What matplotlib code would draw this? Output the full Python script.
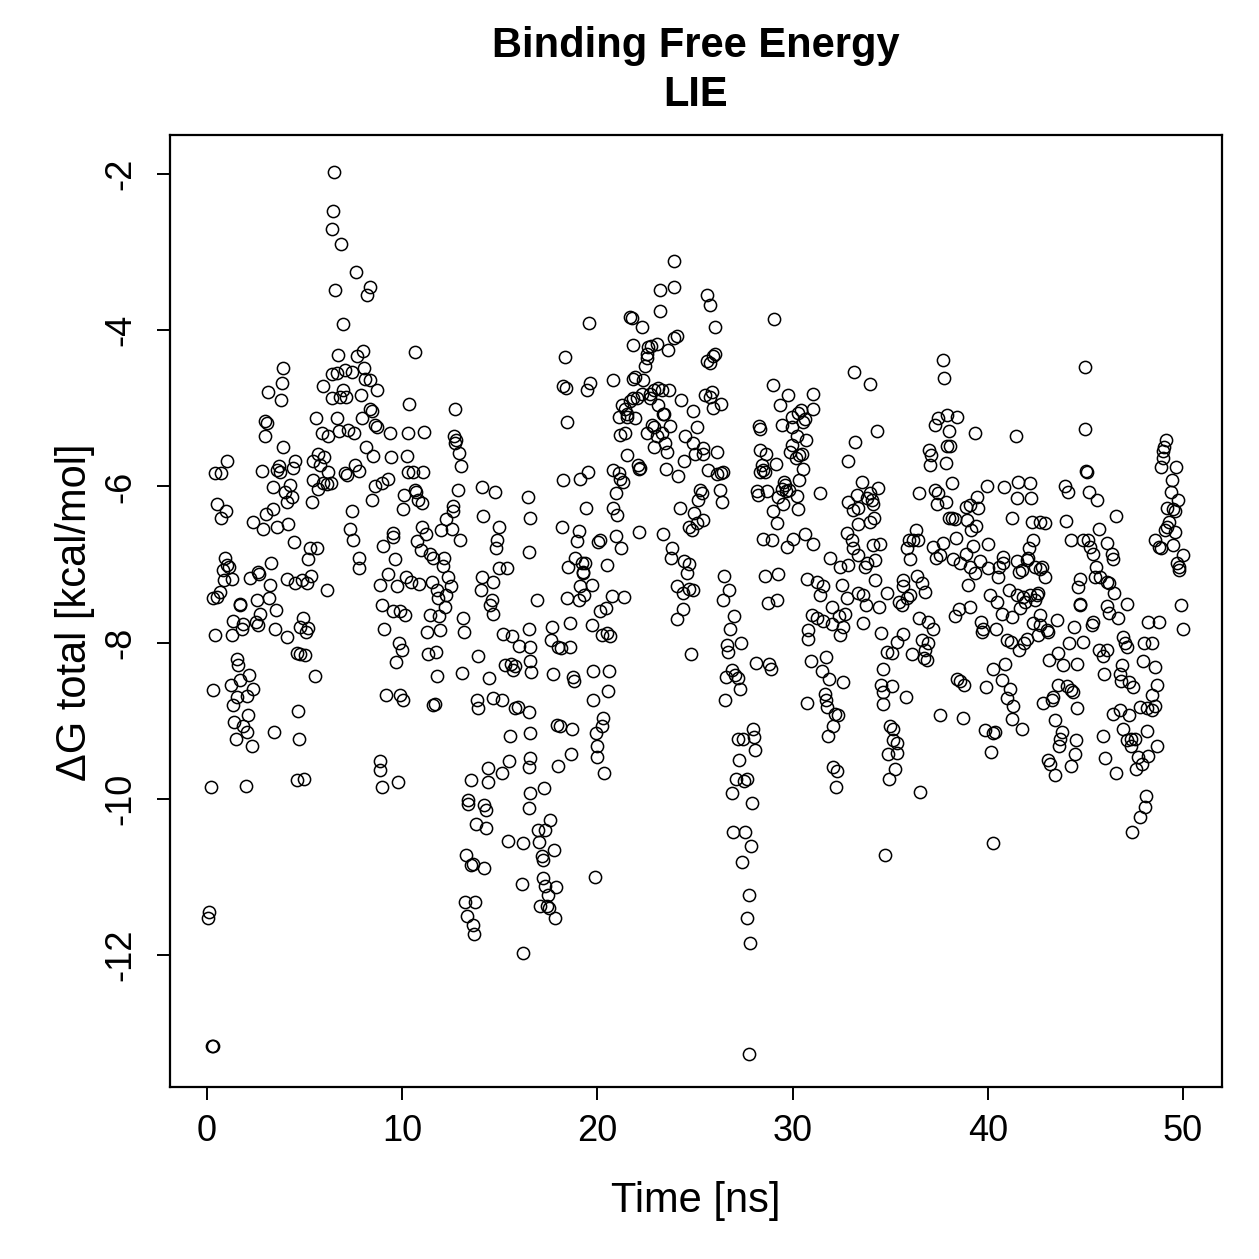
import matplotlib
matplotlib.use("Agg")
import matplotlib.pyplot as plt

plt.rcParams['font.family'] = ['Liberation Sans', 'DejaVu Sans']

# ---- data: time [ns] and Delta G total [kcal/mol] ----
time_a = [6.52,6.47,6.42,6.86,7.63,6.56,8.35,8.18,6.98,10.66,
          6.73,7.67,7.97,3.88,3.83,3.14,3.77,6.39,6.68,7.07,
          7.41,8.04,8.09,8.35,8.73,5.93,6.95,6.39,6.81,7.12,
          7.87,10.36,12.70,2.97,3.06,2.97,5.58,6.68,5.87,6.22,
          6.78,7.24,7.53,8.35,8.44,7.92,8.61,8.69,9.37,10.31,
          11.12,12.65,12.76,12.70,12.93,13.01,8.14,8.52,9.41,10.26,
          3.91,1.04,0.41,0.70,2.80,3.60,3.74,3.71,4.51,4.42,
          5.45,5.70,5.99,5.79,6.22,5.45,5.93,6.13,6.33,5.70,
          7.07,7.19,7.58,7.80,10.31,10.54,11.05,8.95,9.29,8.61,
          12.88,14.07,14.75,3.36,4.25,3.99,4.34,4.12,5.36,8.44,
          10.09,10.71,10.83,10.66,10.06,11.00,0.53,0.97,0.70,2.34,
          3.02,3.36,2.89,3.57,4.17,4.46,7.41,7.33,7.46,7.80,
          7.80,5.28,5.62,5.19,11.00,11.22,10.74,10.95,11.42,11.59,
          12.14,12.07,12.58,12.62,12.24,11.97,12.53,12.96,14.12,14.98,
          14.87,14.80,9.03,9.55,9.51,9.63,9.29,8.86,9.75,10.19,
          10.43,10.88,11.51,11.80,12.36,12.48,12.24,11.85,14.07,14.67,
          14.02,14.58,14.98,15.35,0.92,1.01,1.14,0.84,1.26,0.87,
          2.20,2.63,2.68,3.26,3.23,4.12,4.51,4.85,5.11,5.31,
          6.13,0.67,0.53,0.32,2.54,3.19,1.69,16.46,16.55,16.51]
dg_a = [-1.97,-2.47,-2.70,-2.89,-3.25,-3.49,-3.44,-3.55,-3.92,-4.28,
        -4.32,-4.33,-4.27,-4.48,-4.68,-4.79,-4.89,-4.56,-4.55,-4.51,
        -4.53,-4.48,-4.62,-4.64,-4.77,-4.72,-4.76,-4.87,-4.86,-4.85,
        -4.83,-4.95,-5.01,-5.16,-5.19,-5.36,-5.13,-5.13,-5.31,-5.35,
        -5.29,-5.28,-5.31,-5.01,-5.03,-5.12,-5.21,-5.24,-5.32,-5.32,
        -5.30,-5.36,-5.41,-5.45,-5.57,-5.74,-5.50,-5.61,-5.62,-5.61,
        -5.49,-5.68,-5.83,-5.83,-5.80,-5.79,-5.82,-5.74,-5.68,-5.76,
        -5.67,-5.59,-5.62,-5.73,-5.82,-5.92,-5.95,-5.97,-5.95,-6.03,
        -5.83,-5.85,-5.73,-5.80,-5.81,-5.81,-5.81,-5.96,-5.90,-6.00,
        -6.04,-6.01,-6.07,-6.01,-5.98,-6.07,-6.13,-6.20,-6.20,-6.17,
        -6.11,-6.07,-6.17,-6.05,-6.29,-6.21,-6.23,-6.31,-6.41,-6.45,
        -6.35,-6.29,-6.54,-6.52,-6.48,-6.71,-6.32,-6.54,-6.68,-6.91,
        -7.05,-6.79,-6.79,-6.93,-6.52,-6.61,-6.70,-6.81,-6.86,-6.92,
        -6.91,-7.02,-6.31,-6.25,-6.42,-6.56,-6.54,-6.68,-6.38,-6.52,
        -6.68,-6.79,-6.76,-6.60,-6.65,-6.93,-7.12,-7.26,-7.28,-7.16,
        -7.22,-7.25,-7.22,-7.33,-7.16,-7.28,-7.39,-7.43,-7.16,-7.22,
        -7.33,-7.45,-7.05,-7.05,-6.92,-7.01,-7.03,-7.07,-7.19,-7.20,
        -7.17,-7.09,-7.12,-6.98,-7.26,-7.18,-7.24,-7.20,-7.24,-7.15,
        -7.32,-7.35,-7.41,-7.43,-7.46,-7.43,-7.51,-6.14,-6.41,-6.84]

time_b = [0.41,1.69,1.26,1.35,1.86,1.78,2.51,2.71,2.63,3.53,
          3.48,4.12,4.93,4.76,5.19,5.07,4.59,4.76,5.02,5.53,
          1.52,1.60,2.17,1.21,1.69,2.34,0.32,1.52,2.03,1.35,
          2.12,1.38,1.83,2.07,1.48,2.29,3.43,4.68,4.73,0.19,
          1.98,4.63,4.97,0.12,0.07,0.24,0.29,8.95,9.55,9.89,
          10.14,9.07,9.85,9.97,9.68,11.42,11.90,11.25,11.94,12.19,
          13.13,13.17,14.50,14.63,15.18,15.61,16.00,11.34,11.73,13.90,
          11.80,13.05,14.46,15.27,15.56,15.78,15.66,9.17,9.89,10.06,
          11.59,11.68,13.81,13.90,14.67,15.10,15.78,15.95,15.52,8.86,
          8.86,8.95,9.80,13.51,14.41,14.41,15.10,15.49,13.39,13.39,
          14.19,14.29,13.78,14.29,15.44,16.17,13.27,13.51,14.19,13.64,
          16.12,13.22,13.73,13.30,13.61,13.68,16.20]
dg_b = [-7.90,-7.52,-7.90,-7.72,-7.76,-7.83,-7.73,-7.63,-7.78,-7.58,
        -7.82,-7.93,-7.69,-7.80,-7.81,-7.87,-8.13,-8.14,-8.16,-8.43,
        -8.21,-8.29,-8.41,-8.54,-8.48,-8.59,-8.61,-8.69,-8.68,-8.80,
        -8.93,-9.01,-9.07,-9.14,-9.24,-9.33,-9.15,-8.87,-9.23,-9.85,
        -9.84,-9.76,-9.74,-11.45,-11.53,-13.17,-13.16,-7.52,-7.60,-7.60,
        -7.65,-7.83,-8.00,-8.09,-8.25,-7.65,-7.66,-7.86,-7.84,-7.54,
        -7.69,-7.86,-7.52,-7.63,-7.89,-7.92,-8.04,-8.15,-8.12,-8.17,
        -8.43,-8.39,-8.45,-8.29,-8.27,-8.30,-8.35,-8.67,-8.67,-8.74,
        -8.80,-8.78,-8.74,-8.84,-8.71,-8.74,-8.84,-8.82,-9.20,-9.51,
        -9.63,-9.85,-9.78,-9.76,-9.61,-9.78,-9.67,-9.51,-10.02,-10.07,
        -10.08,-10.14,-10.32,-10.37,-10.54,-10.56,-10.72,-10.85,-10.89,-10.83,
        -11.09,-11.32,-11.32,-11.50,-11.62,-11.73,-11.97]

# (time, dG) pairs, 16.5 - 33.6 ns, upper part
pairs_c = [(16.89,-7.45),(18.34,-4.34),(18.22,-4.71),(18.39,-4.74),(18.43,-5.17),
    (19.59,-3.91),(19.62,-4.67),(19.49,-4.77),(20.78,-4.64),(18.22,-5.92),(19.11,-5.91),
    (19.54,-5.81),(19.42,-6.27),(18.17,-6.52),(19.03,-6.57),(18.94,-6.70),(20.05,-6.71),
    (20.14,-6.69),(18.86,-6.91),(18.51,-7.03),(19.20,-6.98),(19.37,-6.98),(19.25,-7.09),
    (19.28,-7.11),(20.51,-7.01),(19.11,-7.28),(19.71,-7.26),(18.46,-7.43),(19.03,-7.46),
    (19.32,-7.39),(20.73,-7.40),(21.37,-7.41),
    (21.67,-3.83),(21.76,-3.84),(22.27,-3.96),(21.84,-4.19),(22.61,-4.21),(22.73,-4.20),
    (23.04,-4.18),(22.53,-4.30),(22.56,-4.36),(22.44,-4.46),(21.93,-4.60),(21.84,-4.63),
    (22.36,-4.64),(21.25,-4.96),(21.42,-5.01),(21.67,-4.90),(21.84,-4.87),(22.01,-4.87),
    (21.50,-5.07),(21.93,-5.13),(21.08,-5.11),(21.54,-5.11),(22.27,-4.81),(22.70,-4.81),
    (22.90,-4.76),(23.12,-4.74),(23.30,-4.77),(22.70,-4.87),(23.12,-4.96),(23.38,-5.07),
    (22.78,-5.21),(22.90,-5.24),(23.30,-5.32),(22.53,-5.31),(23.04,-5.36),(21.16,-5.34),
    (21.42,-5.32),(22.90,-5.49),(23.47,-5.45),(23.55,-5.56),(21.54,-5.60),(22.10,-5.73),
    (22.19,-5.76),(22.15,-5.78),(20.82,-5.79),(21.08,-5.83),(21.16,-5.90),(21.33,-5.94),
    (20.96,-6.09),(20.82,-6.28),(21.02,-6.37),(20.96,-6.64),(21.19,-6.79),(22.15,-6.58),
    (23.38,-6.61),(23.81,-6.79),(23.76,-6.92),(24.41,-6.96),(24.71,-6.99),(24.58,-7.11),
    (24.06,-7.28),(24.37,-7.37),(24.71,-7.31),(24.88,-7.32),
    (23.93,-3.11),(23.18,-3.48),(23.93,-3.44),(23.21,-3.76),(23.59,-4.25),(23.93,-4.10),
    (24.06,-4.07),(23.69,-4.76),(24.27,-4.89),(24.88,-5.03),(23.41,-5.07),(23.72,-5.23),
    (24.49,-5.35),(25.09,-5.24),(24.92,-5.45),(25.40,-5.51),(25.00,-5.59),(25.43,-5.58),
    (26.11,-5.56),(24.44,-5.67),(23.52,-5.78),(24.15,-5.87),(25.69,-5.79),(26.15,-5.84),
    (26.32,-5.83),(26.45,-5.82),(26.28,-6.04),(26.37,-6.20),(25.26,-6.05),(25.34,-6.09),
    (25.17,-6.17),(24.95,-6.34),(24.23,-6.28),(25.43,-6.43),(25.12,-6.47),(24.71,-6.52),
    (24.83,-6.56),(25.60,-3.55),(25.77,-3.68),(26.03,-3.96),(26.03,-4.30),(25.91,-4.33),
    (25.60,-4.40),(25.77,-4.42),(25.52,-4.83),(25.86,-4.79),(25.77,-4.85),(25.94,-5.00),
    (26.32,-4.95),(26.49,-7.15),(26.76,-7.32),(26.42,-7.45),
    (29.05,-3.86),(29.02,-4.70),(29.78,-4.83),(29.36,-4.96),(29.44,-5.21),(31.07,-4.81),
    (31.07,-5.01),(30.42,-5.02),(30.30,-5.06),(29.96,-5.11),(30.64,-5.14),(30.55,-5.18),
    (29.96,-5.24),(30.21,-5.36),(30.69,-5.41),(29.96,-5.47),(29.87,-5.56),(30.35,-5.60),
    (30.47,-5.59),(30.18,-5.64),(28.30,-5.23),(28.33,-5.26),(28.33,-5.53),(28.64,-5.58),
    (29.15,-5.71),(28.42,-5.73),(28.50,-5.79),(28.59,-5.81),(28.33,-5.82),(30.52,-5.78),
    (30.35,-5.92),(29.56,-5.94),(29.61,-5.98),(29.44,-6.03),(29.66,-6.06),(29.84,-6.05),
    (29.27,-6.13),(29.53,-6.22),(30.21,-6.12),(30.30,-6.29),(31.41,-6.09),(28.16,-6.06),
    (28.25,-6.11),(28.71,-6.06),(28.98,-6.32),(29.22,-6.47),(28.50,-6.67),(28.93,-6.69),
    (29.70,-6.77),(30.04,-6.67),(30.64,-6.61),(31.03,-6.74),(31.92,-6.92),(32.43,-7.03),
    (32.86,-7.01),(33.11,-6.79),(33.37,-6.88),(28.59,-7.15),(29.27,-7.12),(30.72,-7.18),
    (31.24,-7.23),(31.58,-7.28),(31.41,-7.39),(32.52,-7.26),(28.76,-7.49),(29.19,-7.45),
    (32.77,-7.43),(33.15,-4.54),(33.20,-5.43),(32.86,-5.67),(33.54,-5.94),(33.28,-6.11),
    (32.86,-6.20),(33.11,-6.30),(33.37,-6.28),(33.37,-6.48),(32.77,-6.60),(33.03,-6.69),
    (33.37,-7.37)]

# (time, dG) pairs, 16.5 - 33.6 ns, lower part
pairs_d = [(16.50,-7.82),(16.55,-8.05),(16.52,-8.24),(16.58,-8.37),(16.50,-8.89),
    (16.52,-9.16),(16.55,-9.48),(16.50,-9.59),(16.53,-9.93),(16.50,-10.12),
    (17.66,-7.80),(18.57,-7.75),(17.61,-7.97),(18.00,-8.05),(18.12,-8.07),(18.60,-8.05),
    (17.71,-8.40),(18.77,-8.44),(18.80,-8.49),(19.71,-7.78),(20.14,-7.60),(20.44,-7.56),
    (20.22,-7.90),(20.48,-7.88),(20.65,-7.92),(19.79,-8.36),(20.61,-8.36),(20.56,-8.62),
    (19.76,-8.74),(17.92,-9.06),(18.09,-9.07),(18.68,-9.10),(20.31,-8.97),(20.22,-9.07),
    (19.93,-9.16),(20.00,-9.33),(19.97,-9.46),(18.63,-9.43),(18.00,-9.58),(20.34,-9.67),
    (17.27,-9.86),(17.57,-10.27),(16.98,-10.40),(17.32,-10.40),(17.03,-10.55),(17.78,-10.66),
    (17.15,-10.73),(17.20,-10.78),(17.23,-11.01),(17.32,-11.12),(17.88,-11.13),(17.49,-11.23),
    (17.06,-11.37),(17.40,-11.37),(17.54,-11.40),(17.83,-11.52),(19.88,-11.00),
    (24.10,-7.70),(24.37,-7.57),(24.78,-8.15),(27.00,-7.66),(26.80,-7.82),(26.66,-8.03),
    (26.71,-8.12),(27.34,-8.00),(28.13,-8.26),(28.81,-8.27),(28.88,-8.34),(26.88,-8.35),
    (26.59,-8.44),(27.05,-8.42),(27.22,-8.45),(27.31,-8.60),(26.54,-8.73),(27.96,-9.11),
    (28.03,-9.21),(27.22,-9.24),(27.44,-9.23),(28.08,-9.38),(27.27,-9.50),(27.10,-9.75),
    (27.65,-9.75),(27.51,-9.77),(26.88,-9.93),(27.91,-10.05),(26.97,-10.43),(27.56,-10.43),
    (27.85,-10.60),(27.39,-10.81),(27.79,-11.23),(27.65,-11.53),(27.82,-11.85),(27.74,-13.27),
    (30.98,-7.65),(31.27,-7.69),(31.58,-7.72),(32.00,-7.54),(32.40,-7.66),(32.69,-7.63),
    (32.60,-7.80),(32.00,-7.76),(30.81,-7.84),(30.81,-7.95),(32.43,-7.90),(30.93,-8.24),
    (31.71,-8.19),(31.49,-8.36),(31.88,-8.46),(32.57,-8.51),(30.76,-8.77),(31.66,-8.66),
    (31.71,-8.74),(31.78,-8.83),(32.17,-8.91),(32.35,-8.93),(32.09,-9.07),(31.83,-9.20),
    (32.09,-9.59),(32.26,-9.65),(32.23,-9.85)]

# (time, dG) pairs, 33.6 - 50 ns, upper part
pairs_e = [(33.96,-4.69),(34.30,-5.29),(33.96,-6.09),(34.39,-6.02),(34.05,-6.17),
    (34.13,-6.22),(33.79,-6.15),(34.17,-6.41),(33.96,-6.45),(34.13,-6.75),(34.47,-6.74),
    (34.22,-6.94),(33.79,-6.98),(33.71,-7.03),(34.22,-7.20),(34.82,-7.36),(33.62,-7.39),
    (33.76,-7.52),(34.44,-7.54),(33.62,-7.75),(34.51,-7.88),(34.61,-8.34),
    (35.98,-6.69),(36.32,-6.56),(36.44,-6.69),(36.15,-6.69),(35.84,-6.79),(36.01,-6.93),
    (35.64,-7.20),(36.35,-7.15),(36.61,-7.24),(35.67,-7.28),(36.78,-7.35),(36.01,-7.39),
    (35.84,-7.43),(35.47,-7.48),(35.58,-7.52),(36.49,-7.69),(36.95,-7.73),(37.17,-7.82),
    (35.67,-7.89),(35.36,-7.99),(34.82,-8.12),(35.07,-8.13),(36.61,-7.96),(36.95,-8.01),
    (36.10,-8.15),(36.78,-8.09),(36.73,-8.20),(36.87,-8.22),(36.49,-6.09),
    (37.72,-4.38),(37.75,-4.61),(37.46,-5.12),(37.92,-5.09),(38.44,-5.11),(37.29,-5.21),
    (38.03,-5.29),(37.92,-5.48),(38.06,-5.48),(37.00,-5.53),(37.07,-5.60),(37.04,-5.73),
    (37.86,-5.70),(38.15,-5.96),(37.29,-6.05),(37.46,-6.08),(37.41,-6.22),(37.86,-6.20),
    (38.32,-6.42),(38.15,-6.41),(37.17,-6.77),(37.69,-6.73),(37.55,-6.88),(37.34,-6.92),
    (38.37,-6.66),(38.23,-6.93),(38.57,-6.98),(38.88,-6.86),(39.09,-7.03),(38.03,-6.41),
    (38.50,-7.57),(38.32,-7.66),(39.09,-7.54),
    (39.34,-5.31),(38.88,-6.26),(39.09,-6.24),(39.46,-6.13),(39.51,-6.28),(39.94,-6.00),
    (38.91,-6.43),(39.39,-6.51),(39.12,-6.56),(39.22,-6.76),(39.60,-6.96),(40.02,-6.74),
    (39.34,-7.11),(40.02,-7.05),(39.00,-7.26),(39.63,-7.73),(39.73,-7.82),(39.68,-7.86),
    (40.42,-7.82),(40.11,-7.39),(40.45,-7.48),(40.71,-7.63),(40.25,-8.34),(40.88,-8.27),
    (41.00,-7.97),
    (40.83,-6.01),(41.56,-5.94),(42.16,-5.95),(41.48,-6.15),(42.19,-6.15),(41.22,-6.41),
    (41.44,-5.36),(40.76,-6.90),(40.79,-6.98),(40.59,-7.03),(40.54,-7.16),(41.48,-6.95),
    (41.99,-6.94),(41.73,-7.07),(41.61,-7.09),(41.10,-7.33),(41.48,-7.39),(41.78,-7.41),
    (42.16,-7.39),(41.90,-7.48),(41.65,-7.56),(41.22,-7.67),(41.17,-7.99),(41.99,-7.95),
    (41.85,-8.01),(41.61,-8.10),(42.59,-7.90),
    (42.30,-6.69),(42.13,-6.79),(42.07,-6.91),(42.41,-7.03),(42.67,-7.06),(42.76,-7.03),
    (42.93,-7.16),(42.24,-6.45),(42.67,-6.45),(42.93,-6.47),(42.50,-7.39),(42.41,-7.45),
    (42.59,-7.37),(42.67,-7.65),(42.33,-7.75),(42.67,-7.77),(43.01,-7.84),(43.10,-7.86),
    (43.53,-7.71),(43.15,-8.22),(43.61,-8.13),(43.87,-8.29),
    (43.95,-6.00),(44.12,-6.07),(44.00,-6.44),(44.24,-6.69),(44.86,-6.68),(45.15,-6.69),
    (45.23,-6.77),(45.37,-6.86),(44.98,-4.47),(44.98,-5.27),(45.03,-5.80),(45.06,-5.81),
    (45.20,-6.07),(45.61,-6.17),(45.54,-7.03),(45.49,-7.16),(44.72,-7.19),(44.64,-7.29),
    (44.72,-7.50),(44.75,-7.52),(45.40,-7.74),(45.32,-7.77),(44.41,-7.80),(44.17,-8.01),
    (44.86,-7.99),(44.58,-8.27),
    (45.71,-6.54),(46.12,-6.73),(46.34,-6.87),(46.43,-6.93),(46.56,-6.38),(45.75,-7.16),
    (46.09,-7.23),(46.22,-7.24),(46.46,-7.37),(46.12,-7.53),(46.22,-7.62),(46.68,-7.68),
    (47.15,-7.50),(46.91,-7.93),(47.03,-8.01),(47.11,-8.05),(45.71,-8.09),(45.88,-8.17),
    (46.09,-8.09),(45.95,-8.40),(46.86,-8.29),(46.77,-8.40),
    (48.22,-7.73),(48.78,-7.74),(48.00,-8.01),(48.39,-8.01),(47.93,-8.23),(48.56,-8.31),
    (49.13,-5.40),(49.02,-5.49),(48.96,-5.54),(48.99,-5.64),(48.90,-5.75),(49.64,-5.75),
    (49.42,-5.92),(49.37,-6.07),(49.76,-6.17),(49.19,-6.27),(49.50,-6.29),(49.59,-6.32),
    (49.30,-6.45),(49.07,-6.56),(49.59,-6.58),(49.16,-6.52),(48.56,-6.69),(48.78,-6.78),
    (48.90,-6.79),(49.50,-6.75),(49.98,-6.88),(49.71,-6.98),(49.81,-7.03),(49.81,-7.07),
    (49.88,-7.52),(49.98,-7.82)]

# (time, dG) pairs, 33.6 - 50 ns, lower part
pairs_f = [(34.51,-8.54),(35.07,-8.56),(34.65,-8.63),(34.65,-8.79),(35.81,-8.70),
    (37.55,-8.93),(38.71,-8.97),(38.44,-8.47),(38.57,-8.49),(38.78,-8.54),(39.90,-8.57),
    (40.71,-8.48),(41.13,-8.59),(40.96,-8.71),(41.31,-8.81),(41.22,-8.98),(41.73,-9.10),
    (39.85,-9.12),(40.28,-9.16),(40.37,-9.14),(40.14,-9.40),(40.28,-10.56),
    (34.99,-9.07),(35.12,-9.10),(35.16,-9.25),(35.36,-9.28),(34.90,-9.42),(35.33,-9.41),
    (35.24,-9.62),(34.95,-9.74),(36.52,-9.91),(34.73,-10.72),
    (42.81,-8.77),(43.27,-8.74),(43.35,-8.69),(43.61,-8.54),(44.04,-8.56),(44.24,-8.61),
    (44.38,-8.63),(44.55,-8.84),(43.44,-8.99),(43.78,-9.14),(43.70,-9.23),(43.66,-9.33),
    (44.52,-9.25),(44.46,-9.42),(44.24,-9.58),(43.10,-9.50),(43.18,-9.55),(43.44,-9.69),
    (45.92,-9.20),(46.00,-9.48),(46.56,-9.67),(46.39,-8.91),(46.77,-8.86),(47.25,-8.93),
    (46.94,-9.10),(47.11,-9.25),(47.32,-9.24),(47.54,-9.23),(47.32,-9.33),(48.17,-9.13),
    (48.68,-9.32),(47.71,-9.46),(48.22,-9.45),(47.88,-9.55),(47.59,-9.62),(48.10,-9.96),
    (48.05,-10.11),(47.79,-10.23),(47.37,-10.43),(47.79,-8.83),(48.14,-8.84),(48.39,-8.86),
    (48.56,-8.81),(48.39,-8.67),(48.65,-8.54),(47.45,-8.57),(47.25,-8.51),(46.80,-8.49)]

x_ticks = [0, 10, 20, 30, 40, 50]
y_ticks = [-12, -10, -8, -6, -4, -2]
title_line1 = "Binding Free Energy"
title_line2 = "LIE"
x_label = "Time [ns]"
y_label = "\u0394G total [kcal/mol]"

# ---- assemble ----
time_all = list(time_a) + list(time_b)
dg_all = list(dg_a) + list(dg_b)
for seg in (pairs_c, pairs_d, pairs_e, pairs_f):
    time_all += [p[0] for p in seg]
    dg_all += [p[1] for p in seg]

W = 1259
fig = plt.figure(figsize=(W / 100, W / 100), dpi=100)
ax = fig.add_axes([170 / W, 1 - 1087 / W, (1222 - 170) / W, (1087 - 135) / W])

ax.plot(time_all, dg_all, linestyle='none', marker='o', markersize=8.8,
        markerfacecolor='none', markeredgecolor='black', markeredgewidth=1.1)

ax.set_xlim(-1.9, 52.0)
ax.set_ylim(-13.69, -1.5)
ax.set_xticks(x_ticks)
ax.set_yticks(y_ticks)
ax.set_xticklabels([str(v) for v in x_ticks])
ax.set_yticklabels([str(v) for v in y_ticks], rotation=90, va='center')

for sp in ax.spines.values():
    sp.set_linewidth(1.6)
ax.tick_params(axis='both', direction='out', length=9.5, width=1.4,
               labelsize=26, colors='black')
ax.tick_params(axis='x', pad=10)
ax.tick_params(axis='y', pad=13)

cx = (170 + 1222) / 2 / W
fig.text(cx, 1 - 46 / W, title_line1, ha='center', va='center',
         fontsize=30, fontweight='bold')
fig.text(cx, 1 - 95 / W, title_line2, ha='center', va='center',
         fontsize=30, fontweight='bold')
fig.text(cx, 1 - 1201 / W, x_label, ha='center', va='center', fontsize=30)
fig.text(75 / W, 1 - 612 / W, y_label, ha='center', va='center',
         fontsize=30, rotation=90)

fig.savefig("out.png", dpi=100, facecolor='white')
